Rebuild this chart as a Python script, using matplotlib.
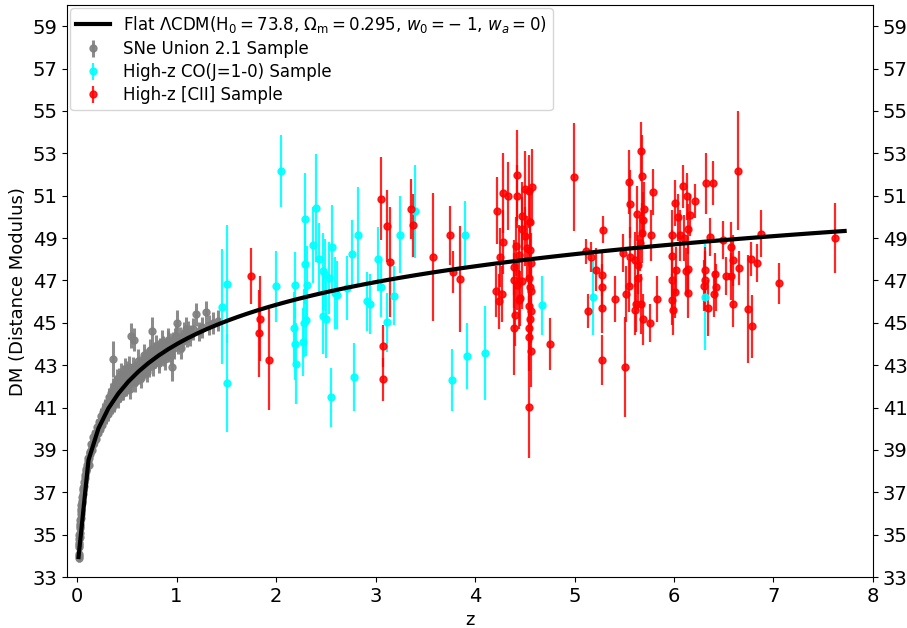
import numpy as np
import matplotlib
matplotlib.use("Agg")
import matplotlib.pyplot as plt

# ---------------- model parameters ----------------
H0 = 73.8
Om = 0.295
w0 = -1.0
wa = 0.0

# ---------------- SNe Union 2.1 sample ----------------
sne_z = [
    0.015, 0.016, 0.017, 0.019, 0.020, 0.021, 0.023, 0.024, 0.025, 0.026,
    0.028, 0.030, 0.031, 0.033, 0.035, 0.037, 0.039, 0.041, 0.043, 0.046,
    0.049, 0.052, 0.055, 0.058, 0.062, 0.066, 0.071, 0.076, 0.081, 0.087,
    0.094, 0.100, 0.110, 0.120, 0.130, 0.140, 0.150, 0.160, 0.170, 0.180,
    0.190, 0.200, 0.210, 0.220, 0.230, 0.240, 0.250, 0.260, 0.270, 0.280,
    0.290, 0.300, 0.310, 0.320, 0.330, 0.340, 0.350, 0.350, 0.366, 0.370,
    0.380, 0.380, 0.390, 0.400, 0.400, 0.410, 0.420, 0.430, 0.440, 0.450,
    0.450, 0.460, 0.470, 0.480, 0.490, 0.500, 0.510, 0.520, 0.530, 0.545,
    0.550, 0.550, 0.576, 0.570, 0.580, 0.590, 0.600, 0.610, 0.620, 0.630,
    0.640, 0.650, 0.660, 0.670, 0.680, 0.690, 0.700, 0.710, 0.720, 0.730,
    0.740, 0.754, 0.760, 0.770, 0.780, 0.790, 0.800, 0.810, 0.820, 0.830,
    0.840, 0.850, 0.860, 0.870, 0.880, 0.900, 0.910, 0.920, 0.930, 0.955,
    0.960, 0.970, 0.980, 1.000, 1.010, 1.030, 1.050, 1.070, 1.100, 1.120,
    1.140, 1.170, 1.200, 1.230, 1.260, 1.300, 1.330, 1.370, 1.414, 0.175,
    0.105, 0.115, 0.125, 0.135, 0.145, 0.155, 0.165, 0.185, 0.195, 0.205,
    0.215, 0.225, 0.235, 0.245, 0.255, 0.265, 0.275, 0.285, 0.295, 0.305,
    0.315, 0.325, 0.335, 0.345, 0.355, 0.365, 0.375, 0.385, 0.395, 0.405,
    0.415, 0.425, 0.435, 0.445, 0.455, 0.465, 0.475, 0.485, 0.495, 0.505,
    0.515, 0.525, 0.535, 0.560, 0.585, 0.615, 0.645, 0.675, 0.705, 0.735,
    0.765, 0.795, 0.825, 0.855, 0.885, 0.915, 0.945, 0.990, 1.040, 1.090,
]
sne_dm = [
    33.9, 34.1, 34.0, 34.4, 34.6, 34.5, 34.8, 35.0, 34.9, 35.1,
    35.4, 35.5, 35.3, 35.7, 35.8, 36.0, 36.1, 36.2, 36.4, 36.5,
    36.6, 36.8, 36.9, 37.1, 37.2, 37.3, 37.5, 37.7, 37.8, 38.0,
    38.1, 38.3, 38.5, 38.6, 38.9, 39.0, 39.2, 39.3, 39.5, 39.5,
    39.7, 39.8, 40.0, 40.0, 40.2, 40.3, 40.4, 40.5, 40.6, 40.7,
    40.8, 40.9, 41.0, 41.2, 40.9, 41.3, 41.5, 41.0, 43.3, 41.6,
    41.3, 41.8, 41.9, 41.4, 42.0, 41.7, 42.1, 41.6, 42.0, 41.9,
    42.3, 41.7, 42.2, 42.4, 41.9, 42.3, 42.0, 42.5, 42.2, 44.4,
    42.6, 42.3, 44.2, 42.5, 42.8, 42.4, 42.7, 42.9, 42.5, 43.0,
    42.8, 42.6, 43.1, 42.9, 43.3, 42.8, 43.1, 43.4, 42.9, 43.2,
    43.5, 44.6, 43.2, 43.6, 43.3, 43.5, 43.4, 43.7, 43.2, 43.8,
    43.5, 43.6, 43.9, 43.4, 43.7, 43.8, 44.1, 43.6, 44.0, 42.9,
    44.1, 43.8, 44.3, 45.0, 44.0, 44.3, 44.1, 44.5, 44.3, 44.6,
    44.4, 44.7, 45.4, 44.6, 44.8, 45.5, 44.9, 45.0, 45.1, 39.4,
    38.6, 38.3, 38.9, 38.8, 39.3, 39.0, 39.6, 39.8, 39.5, 40.1,
    39.8, 40.3, 40.0, 40.6, 40.2, 40.8, 40.4, 41.0, 40.6, 41.2,
    40.7, 41.5, 41.2, 41.7, 41.3, 41.9, 41.2, 42.1, 41.6, 42.3,
    41.4, 42.4, 41.9, 42.6, 41.8, 42.5, 42.0, 42.8, 42.1, 42.7,
    42.3, 42.9, 41.9, 42.9, 42.2, 43.2, 42.4, 43.5, 42.7, 43.7,
    43.0, 43.9, 43.1, 44.1, 43.3, 44.2, 43.5, 44.4, 43.8, 44.7,
]
sne_err = [
    0.20, 0.18, 0.22, 0.15, 0.17, 0.20, 0.16, 0.18, 0.21, 0.15,
    0.17, 0.19, 0.16, 0.18, 0.20, 0.15, 0.17, 0.19, 0.16, 0.18,
    0.20, 0.17, 0.15, 0.19, 0.18, 0.16, 0.21, 0.17, 0.19, 0.18,
    0.20, 0.22, 0.25, 0.20, 0.28, 0.24, 0.26, 0.30, 0.22, 0.27,
    0.25, 0.30, 0.26, 0.28, 0.32, 0.25, 0.30, 0.27, 0.35, 0.29,
    0.30, 0.33, 0.28, 0.35, 0.30, 0.32, 0.36, 0.29, 0.85, 0.33,
    0.30, 0.36, 0.40, 0.32, 0.38, 0.30, 0.42, 0.35, 0.33, 0.40,
    0.36, 0.32, 0.45, 0.38, 0.34, 0.40, 0.36, 0.42, 0.35, 0.60,
    0.38, 0.34, 0.55, 0.40, 0.42, 0.36, 0.45, 0.38, 0.40, 0.44,
    0.40, 0.37, 0.45, 0.42, 0.48, 0.38, 0.44, 0.40, 0.46, 0.42,
    0.45, 0.70, 0.40, 0.48, 0.42, 0.46, 0.44, 0.50, 0.40, 0.48,
    0.45, 0.42, 0.50, 0.44, 0.46, 0.48, 0.52, 0.44, 0.50, 0.65,
    0.46, 0.50, 0.48, 0.60, 0.45, 0.50, 0.48, 0.52, 0.46, 0.50,
    0.48, 0.52, 0.55, 0.46, 0.50, 0.55, 0.48, 0.52, 0.50, 0.26,
    0.25, 0.28, 0.30, 0.26, 0.32, 0.28, 0.34, 0.30, 0.33, 0.35,
    0.32, 0.36, 0.30, 0.38, 0.34, 0.40, 0.33, 0.42, 0.36, 0.40,
    0.35, 0.44, 0.38, 0.45, 0.36, 0.48, 0.40, 0.46, 0.38, 0.50,
    0.42, 0.48, 0.40, 0.52, 0.44, 0.50, 0.42, 0.55, 0.45, 0.50,
    0.46, 0.52, 0.48, 0.50, 0.46, 0.55, 0.48, 0.52, 0.50, 0.56,
    0.50, 0.55, 0.48, 0.58, 0.52, 0.56, 0.50, 0.60, 0.52, 0.58,
]

# ---------------- High-z CO(J=1-0) sample ----------------
co_z = [1.454, 1.511, 1.511, 2.047, 1.997, 2.188, 2.177, 2.191, 2.198, 2.274,
        2.288, 2.294, 2.308, 2.302, 2.285, 2.399, 2.369, 2.429, 2.469, 2.490,
        2.476, 2.503, 2.550, 2.566, 2.536, 2.593, 2.616, 2.710, 2.767, 2.827,
        2.784, 2.918, 2.945, 3.028, 3.058, 3.112, 3.186, 3.246, 3.397, 3.772,
        3.896, 3.917, 4.100, 4.677, 5.183, 6.312]
co_dm = [45.77, 46.83, 42.17, 52.17, 46.73, 46.77, 44.76, 44.02, 43.08, 44.10,
         49.90, 47.78, 46.81, 45.12, 45.00, 50.42, 48.66, 48.01, 47.43, 47.28,
         45.31, 45.16, 41.49, 48.57, 47.12, 46.41, 46.30, 46.65, 48.25, 49.13,
         42.43, 46.02, 45.89, 48.01, 46.68, 45.03, 46.29, 49.17, 50.26, 42.31,
         49.17, 43.42, 43.58, 45.82, 46.20, 46.20]
co_err = [2.70, 2.80, 2.30, 1.71, 1.67, 1.57, 1.70, 1.70, 1.93, 1.60,
          2.17, 1.90, 1.80, 1.70, 1.60, 2.55, 1.80, 1.70, 1.80, 1.70,
          1.80, 1.80, 1.40, 2.00, 1.70, 1.70, 1.60, 1.50, 1.60, 2.30,
          1.60, 1.40, 1.40, 1.50, 1.40, 1.40, 1.40, 1.80, 2.20, 1.45,
          1.60, 1.55, 2.20, 1.40, 1.75, 2.50]

# ---------------- High-z [CII] sample ----------------
cii_z = [1.752, 1.839, 1.832, 1.933, 3.055, 3.112, 3.146, 3.079, 3.072, 3.354,
         3.380, 3.581, 3.749, 3.782, 3.849, 4.754, 4.995, 5.116, 5.163, 5.139,
         4.218, 4.278, 4.335, 4.419, 4.419, 4.500, 4.540, 4.570, 4.278, 4.251,
         4.211, 4.244, 4.271, 4.412, 4.392, 4.392, 4.425, 4.402, 4.392, 4.469,
         4.469, 4.445, 4.452, 4.503, 4.526, 4.553, 4.560, 4.540, 4.550, 4.560,
         4.546, 4.553, 4.546, 4.546, 4.560, 4.544, 4.553, 4.470, 4.445, 4.560,
         5.213, 5.286, 5.280, 5.280, 5.280, 5.276, 5.410, 5.508, 5.484, 5.548,
         5.555, 5.558, 5.548, 5.518, 5.608, 5.625, 5.635, 5.641, 5.618, 5.608,
         5.668, 5.675, 5.681, 5.658, 5.691, 5.701, 5.668, 5.685, 5.766, 5.759,
         5.789, 5.826, 5.983, 5.977, 5.977, 5.983, 5.993, 6.010, 6.017, 6.010,
         6.037, 6.060, 6.093, 6.103, 6.127, 6.137, 6.160, 6.117, 6.143, 6.137,
         6.211, 6.319, 6.395, 6.362, 6.312, 6.312, 6.302, 6.345, 6.412, 6.422,
         6.402, 6.490, 6.523, 6.570, 6.596, 6.573, 6.596, 6.646, 6.656, 6.747,
         6.781, 6.771, 6.831, 6.878, 7.058, 7.618]
cii_dm = [47.21, 45.20, 44.50, 43.27, 50.86, 49.56, 47.86, 43.90, 42.33, 50.37,
          49.60, 48.11, 49.13, 47.40, 47.09, 44.00, 51.90, 48.38, 48.11, 45.55,
          50.30, 51.13, 50.97, 51.96, 50.97, 51.30, 51.20, 51.40, 48.82, 48.09,
          46.49, 46.02, 46.36, 48.61, 47.62, 47.00, 46.81, 45.39, 44.76, 50.06,
          49.45, 48.22, 46.17, 49.08, 48.53, 49.75, 47.83, 47.10, 46.70, 46.49,
          45.78, 45.16, 44.76, 44.32, 43.66, 41.02, 48.46, 46.96, 46.10, 45.55,
          47.51, 49.40, 47.28, 46.68, 45.70, 43.25, 46.13, 42.92, 48.30, 51.65,
          50.61, 48.11, 46.73, 46.36, 47.99, 50.14, 47.75, 47.12, 45.89, 45.63,
          53.09, 51.95, 49.24, 48.77, 49.87, 50.37, 45.89, 45.16, 49.13, 44.98,
          51.17, 46.13, 49.13, 48.17, 47.04, 46.10, 45.63, 50.66, 47.48, 46.44,
          49.98, 49.13, 51.44, 49.00, 50.97, 49.43, 50.08, 47.43, 47.56, 46.41,
          50.74, 51.60, 51.60, 49.05, 47.48, 47.01, 46.76, 45.70, 47.31, 46.68,
          46.36, 48.93, 47.23, 48.58, 47.95, 47.20, 45.91, 52.18, 47.59, 45.66,
          44.84, 48.01, 47.83, 49.21, 46.87, 49.00]
cii_err = [1.32, 2.00, 2.06, 2.40, 1.97, 1.70, 2.60, 1.00, 1.00, 1.40,
           1.50, 3.00, 1.40, 1.00, 2.50, 1.24, 2.55, 0.60, 0.70, 0.80,
           1.60, 1.90, 1.60, 2.15, 1.50, 1.80, 1.70, 1.80, 1.50, 1.40,
           1.20, 1.30, 1.30, 1.40, 1.30, 1.30, 1.20, 1.50, 2.20, 1.60,
           1.50, 1.40, 1.30, 1.40, 1.50, 1.60, 1.40, 1.30, 1.40, 1.40,
           1.50, 1.40, 1.50, 1.60, 1.70, 2.40, 1.50, 1.30, 1.40, 1.50,
           1.00, 0.65, 1.00, 1.10, 1.20, 1.18, 1.10, 2.36, 0.90, 1.50,
           1.60, 1.40, 1.20, 1.30, 1.30, 1.30, 1.40, 1.50, 1.30, 1.20,
           1.40, 1.90, 1.40, 1.30, 1.30, 1.30, 1.40, 1.20, 1.20, 0.90,
           1.10, 1.10, 1.20, 1.20, 1.30, 1.20, 1.20, 1.10, 1.10, 1.20,
           1.10, 1.20, 1.00, 1.10, 1.10, 1.20, 1.00, 1.10, 1.20, 1.20,
           0.80, 1.44, 1.02, 0.90, 1.10, 1.40, 1.20, 1.30, 1.00, 1.10,
           1.10, 0.90, 0.90, 1.20, 1.20, 1.10, 1.10, 2.80, 0.80, 2.55,
           1.48, 0.80, 0.90, 1.10, 0.97, 1.67]

x_ticks = [0, 1, 2, 3, 4, 5, 6, 7, 8]
y_ticks = list(range(33, 60, 2))


# ---------------- flat (w0,wa)CDM distance modulus ----------------
def distance_modulus(z):
    c = 299792.458
    zz = np.linspace(0.0, z, 2001)
    de = (1 - Om) * (1 + zz) ** (3 * (1 + w0 + wa)) * np.exp(-3 * wa * zz / (1 + zz))
    E = np.sqrt(Om * (1 + zz) ** 3 + de)
    dc = c / H0 * np.trapezoid(1.0 / E, zz)
    dl = (1 + z) * dc
    return 5 * np.log10(dl) + 25


z_model = np.arange(0.015, 7.75, 0.1)
dm_model = np.array([distance_modulus(z) for z in z_model])

# ---------------- figure ----------------
fig = plt.figure(figsize=(9.07, 6.28), dpi=100)
ax = fig.add_axes([0.074, 0.081, 0.8885, 0.911])

h_sne = ax.errorbar(sne_z, sne_dm, yerr=sne_err, fmt='o', color='grey', ms=5,
                    elinewidth=2.2, alpha=0.9, zorder=2)
h_co = ax.errorbar(co_z, co_dm, yerr=co_err, fmt='o', color='cyan', ms=5,
                   elinewidth=1.6, alpha=0.9, zorder=3)
h_cii = ax.errorbar(cii_z, cii_dm, yerr=cii_err, fmt='o', color='red', ms=5,
                    elinewidth=1.6, alpha=0.85, zorder=3)
h_line, = ax.plot(z_model, dm_model, color='black', lw=3, zorder=5)

label_model = (r'Flat $\Lambda$CDM(H$_0=73.8$, $\Omega_{\rm m}=0.295$, '
               r'$w_0=-\;1$, $w_a=0$)')
ax.legend([h_line, h_sne, h_co, h_cii],
          [label_model, 'SNe Union 2.1 Sample', 'High-z CO(J=1-0) Sample',
           'High-z [CII] Sample'],
          loc='upper left', fontsize=12, borderaxespad=0.2,
          labelspacing=0.3, handlelength=2.0, borderpad=0.35)

ax.set_xlim(-0.1, 8.0)
ax.set_ylim(33, 60)
ax.set_xticks(x_ticks)
ax.set_yticks(y_ticks)
ax.tick_params(axis='both', labelsize=14, right=True, labelright=True)
ax.set_xlabel('z', fontsize=13)
ax.set_ylabel('DM (Distance Modulus)', fontsize=13)

fig.savefig('out.png', dpi=100)
